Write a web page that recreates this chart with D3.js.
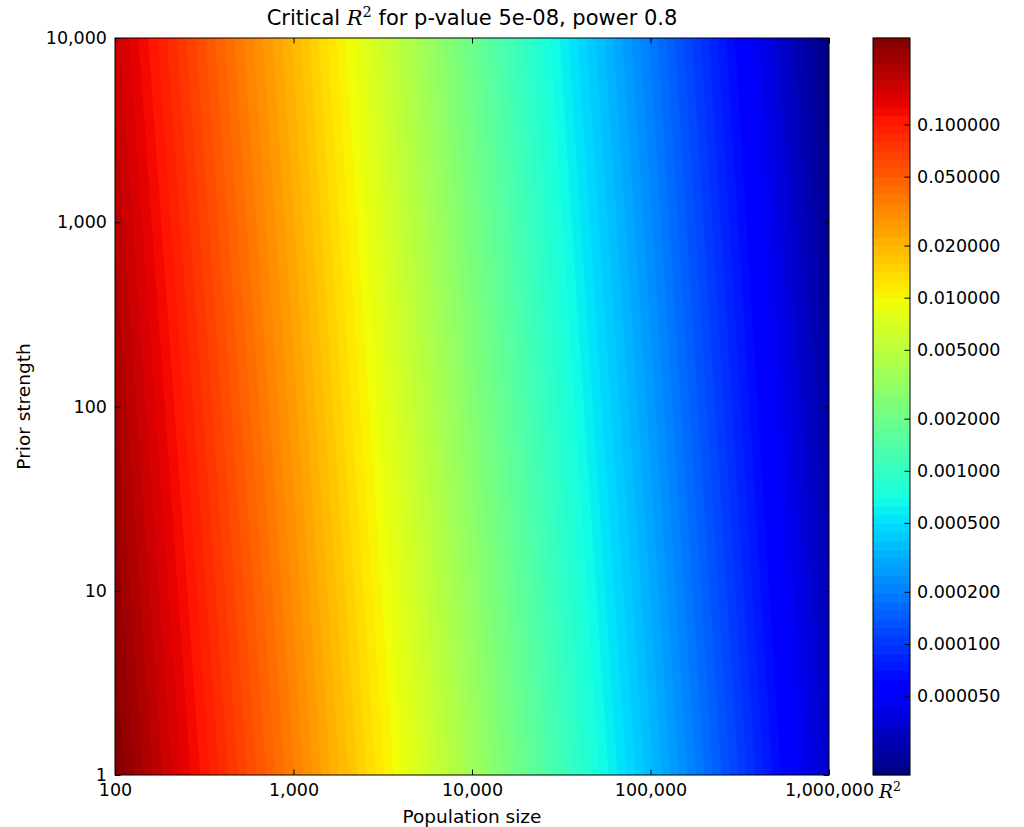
<!DOCTYPE html>
<html>
<head>
<meta charset="utf-8">
<script src="https://cdn.jsdelivr.net/npm/d3@7"></script>
<style>
  body { margin: 0; background: #fff; }
  text { font-family: "DejaVu Sans", sans-serif; fill: #000; }
</style>
</head>
<body>
<div id="chart"></div>
<script>
// population size (x) and prior strength (y) grid, read at decade points
var populations = [100, 1000, 10000, 100000, 1000000];
var priors = [1, 10, 100, 1000, 10000];

// critical R^2, one row per prior strength (bottom row first)
var r2Prior1     = [0.316, 0.0355, 0.00363, 0.000363, 0.0000324];
var r2Prior10    = [0.269, 0.0305, 0.00310, 0.000310, 0.0000277];
var r2Prior100   = [0.229, 0.0261, 0.00264, 0.000264, 0.0000238];
var r2Prior1000  = [0.195, 0.0224, 0.00226, 0.000226, 0.0000204];
var r2Prior10000 = [0.166, 0.0193, 0.00193, 0.000193, 0.0000175];

var xTicks = [100, 1000, 10000, 100000, 1000000];
var yTicks = [1, 10, 100, 1000, 10000];
var colorTicks = [0.1, 0.05, 0.02, 0.01, 0.005, 0.002, 0.001, 0.0005, 0.0002, 0.0001, 0.00005];
var nBands = 85;

var width = 1024, height = 827;
var plot = {left: 115, right: 829, top: 38, bottom: 775};
var cbar = {left: 873, right: 910};

var svg = d3.select("#chart").append("svg")
  .attr("width", width)
  .attr("height", height);

svg.append("rect").attr("width", width).attr("height", height).attr("fill", "#fff");

// matplotlib "jet"
var jetR = d3.scaleLinear().domain([0, 0.35, 0.66, 0.89, 1]).range([0, 0, 1, 1, 0.5]).clamp(true);
var jetG = d3.scaleLinear().domain([0, 0.125, 0.375, 0.64, 0.91, 1]).range([0, 0, 1, 1, 0, 0]).clamp(true);
var jetB = d3.scaleLinear().domain([0, 0.11, 0.34, 0.65, 1]).range([0.5, 1, 1, 0, 0]).clamp(true);
function jet(t) {
  return d3.rgb(jetR(t) * 255, jetG(t) * 255, jetB(t) * 255).toString();
}

var x = d3.scaleLog().domain([100, 1000000]).range([plot.left, plot.right]);
var y = d3.scaleLog().domain([1, 10000]).range([plot.bottom, plot.top]);

var rows = [r2Prior1, r2Prior10, r2Prior100, r2Prior1000, r2Prior10000];
var logValues = [];
rows.forEach(function(r) {
  r.forEach(function(v) { logValues.push(Math.log10(v)); });
});
var lo = d3.min(logValues), hi = d3.max(logValues);
var levels = d3.range(nBands + 1).map(function(i) { return lo + (hi - lo) * i / nBands; });
levels[0] = lo - 1e-9;

var nx = populations.length, ny = priors.length;
var ix = d3.scaleLinear().domain([0, nx - 1]).range([x(populations[0]), x(populations[nx - 1])]);
var iy = d3.scaleLinear().domain([0, ny - 1]).range([y(priors[0]), y(priors[ny - 1])]);

var contours = d3.contours().size([nx, ny]).thresholds(levels.slice(0, nBands))(logValues);

var projection = d3.geoTransform({
  point: function(px, py) {
    this.stream.point(ix(px - 0.5), iy(py - 0.5));
  }
});
var geo = d3.geoPath(projection);

svg.append("clipPath").attr("id", "clip")
  .append("rect")
  .attr("x", plot.left).attr("y", plot.top)
  .attr("width", plot.right - plot.left).attr("height", plot.bottom - plot.top);

svg.append("g").attr("clip-path", "url(#clip)")
  .selectAll("path")
  .data(contours)
  .enter()
  .append("path")
  .attr("d", geo)
  .attr("fill", function(d, i) { return jet((i + 0.5) / nBands); })
  .attr("stroke", function(d, i) { return jet((i + 0.5) / nBands); })
  .attr("stroke-width", 0.5);

// frame
svg.append("rect")
  .attr("x", plot.left).attr("y", plot.top)
  .attr("width", plot.right - plot.left).attr("height", plot.bottom - plot.top)
  .attr("fill", "none").attr("stroke", "#000").attr("stroke-width", 1);

var fmt = d3.format(",");
var fs = "17.5px";
var labelFs = "18.5px";

// x axis (ticks inside, top and bottom)
svg.append("g")
  .attr("transform", "translate(0," + plot.bottom + ")")
  .call(d3.axisBottom(x).tickValues(xTicks).tickFormat(fmt).tickSize(-5.5).tickPadding(9));
svg.append("g")
  .attr("transform", "translate(0," + plot.top + ")")
  .call(d3.axisTop(x).tickValues(xTicks).tickFormat("").tickSize(-5.5));

svg.append("g")
  .attr("transform", "translate(" + plot.left + ",0)")
  .call(d3.axisLeft(y).tickValues(yTicks).tickFormat(fmt).tickSize(-5.5).tickPadding(8));
svg.append("g")
  .attr("transform", "translate(" + plot.right + ",0)")
  .call(d3.axisRight(y).tickValues(yTicks).tickFormat("").tickSize(-5.5));

svg.selectAll(".domain").remove();
svg.selectAll(".tick line").attr("stroke", "#000");
svg.selectAll(".tick text")
  .style("font-family", "DejaVu Sans")
  .style("font-size", fs)
  .attr("fill", "#000");

// titles
var title = svg.append("text")
  .attr("x", (plot.left + plot.right) / 2)
  .attr("y", 25)
  .attr("text-anchor", "middle")
  .style("font-size", "21px");
title.append("tspan").text("Critical ");
title.append("tspan").style("font-family", "DejaVu Serif").style("font-style", "italic").text("R");
title.append("tspan").attr("dy", -8).style("font-family", "DejaVu Serif").style("font-size", "14.5px").text("2");
title.append("tspan").attr("dy", 8).text(" for p-value 5e-08, power 0.8");

svg.append("text")
  .attr("x", (plot.left + plot.right) / 2)
  .attr("y", 823)
  .attr("text-anchor", "middle")
  .style("font-size", labelFs)
  .text("Population size");

svg.append("text")
  .attr("transform", "translate(30," + (plot.top + plot.bottom) / 2 + ") rotate(-90)")
  .attr("text-anchor", "middle")
  .style("font-size", labelFs)
  .text("Prior strength");

// colorbar
var c = d3.scaleLog().domain([Math.pow(10, lo), Math.pow(10, hi)]).range([plot.bottom, plot.top]);
var bands = d3.range(nBands);
svg.append("g").selectAll("rect")
  .data(bands)
  .enter()
  .append("rect")
  .attr("x", cbar.left)
  .attr("width", cbar.right - cbar.left)
  .attr("y", function(i) { return c(Math.pow(10, levels[i + 1])) - 0.3; })
  .attr("height", function(i) { return c(Math.pow(10, levels[i])) - c(Math.pow(10, levels[i + 1])) + 0.6; })
  .attr("fill", function(i) { return jet((i + 0.5) / nBands); });

svg.append("rect")
  .attr("x", cbar.left).attr("y", plot.top)
  .attr("width", cbar.right - cbar.left).attr("height", plot.bottom - plot.top)
  .attr("fill", "none").attr("stroke", "#000").attr("stroke-width", 1);

var cAxis = svg.append("g")
  .attr("transform", "translate(" + cbar.right + ",0)")
  .call(d3.axisRight(c).tickValues(colorTicks).tickFormat(d3.format(".6f")).tickSize(-5.5).tickPadding(7));
cAxis.select(".domain").remove();
cAxis.selectAll(".tick line").attr("stroke", "#000");
cAxis.selectAll(".tick text")
  .style("font-family", "DejaVu Sans")
  .style("font-size", fs)
  .attr("fill", "#000");

var cLabel = svg.append("text")
  .attr("x", 879)
  .attr("y", 798)
  .style("font-size", labelFs);
cLabel.append("tspan").style("font-family", "DejaVu Serif").style("font-style", "italic").text("R");
cLabel.append("tspan").attr("dy", -7).style("font-family", "DejaVu Serif").style("font-size", "12.5px").text("2");
</script>
</body>
</html>
